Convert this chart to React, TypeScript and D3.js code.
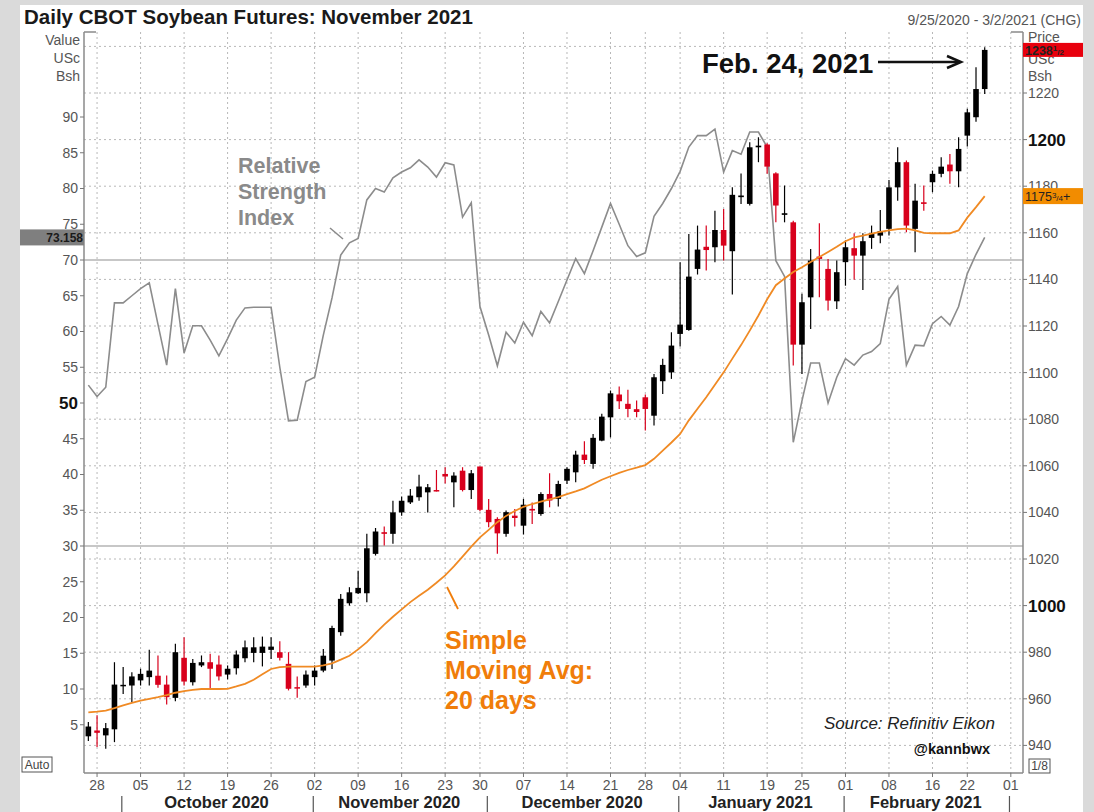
import * as d3 from "d3";

// trading days 9/25/2020 .. 2/24/2021, index 0..103
const opens = [
  943.9, 946.4, 944.3, 946.9, 965.4, 965.7, 967.9, 969.3, 969.9, 966.1,
  960.4, 977.6, 967.1, 974.3, 975.7, 974.7, 970.4, 973.1, 977.4, 979.7,
  979.7, 981.0, 980.0, 975.0, 965.0, 965.7, 969.3, 972.1, 976.4, 988.6,
  1001.0, 1005.3, 1005.3, 1022.2, 1031.5, 1030.8, 1040.0, 1044.3, 1046.5, 1048.6,
  1049.6, 1056.5, 1052.9, 1057.9, 1049.6, 1059.7, 1041.1, 1037.2, 1030.8, 1038.6,
  1034.3, 1041.5, 1039.3, 1047.9, 1045.8, 1053.6, 1057.2, 1064.8, 1060.8, 1070.8,
  1080.8, 1090.6, 1086.6, 1084.3, 1089.4, 1081.5, 1096.3, 1100.1, 1116.6, 1118.3,
  1144.5, 1154.0, 1153.8, 1161.2, 1152.1, 1175.3, 1172.4, 1196.7, 1197.9, 1185.5,
  1167.7, 1164.5, 1112.0, 1132.3, 1149.8, 1144.5, 1130.6, 1147.4, 1153.4, 1150.2,
  1157.8, 1158.8, 1161.7, 1179.5, 1190.3, 1161.7, 1173.1, 1181.7, 1185.3, 1189.3,
  1186.4, 1201.7, 1209.6, 1221.7,
];
const highs = [
  950.0, 952.9, 949.6, 975.7, 973.6, 971.4, 972.9, 981.1, 978.6, 970.0,
  983.6, 986.4, 977.1, 978.6, 979.3, 978.6, 974.3, 980.7, 985.0, 986.4,
  986.7, 986.4, 984.7, 980.0, 969.6, 972.1, 974.3, 981.4, 991.4, 1005.0,
  1007.9, 1015.0, 1030.8, 1033.3, 1033.9, 1045.0, 1046.8, 1050.0, 1056.2, 1052.2,
  1058.2, 1059.4, 1057.2, 1059.4, 1058.2, 1059.7, 1045.8, 1037.9, 1040.8, 1041.5,
  1045.8, 1044.3, 1048.6, 1056.8, 1053.6, 1059.4, 1066.5, 1070.5, 1073.7, 1082.3,
  1092.3, 1094.0, 1092.6, 1088.0, 1090.6, 1099.4, 1105.9, 1117.3, 1147.4, 1159.5,
  1163.1, 1163.1, 1169.5, 1170.2, 1179.5, 1185.5, 1198.9, 1201.0, 1198.4, 1186.0,
  1180.3, 1165.2, 1133.8, 1153.1, 1164.1, 1148.8, 1148.1, 1156.7, 1159.8, 1159.8,
  1163.1, 1169.8, 1182.7, 1196.7, 1191.0, 1181.0, 1180.3, 1186.7, 1192.4, 1193.8,
  1201.0, 1213.2, 1231.0, 1239.6,
];
const lows = [
  941.9, 939.3, 938.6, 941.4, 962.1, 958.6, 965.7, 965.7, 964.7, 957.6,
  959.0, 965.7, 965.7, 973.6, 964.3, 967.9, 968.3, 970.4, 975.7, 975.7,
  973.9, 977.1, 976.4, 963.6, 960.4, 964.7, 965.7, 971.4, 972.8, 987.1,
  1000.0, 1005.0, 1001.4, 1021.5, 1025.8, 1026.5, 1038.6, 1043.6, 1045.0, 1040.0,
  1049.0, 1052.4, 1042.2, 1049.0, 1045.8, 1040.5, 1033.6, 1022.2, 1029.6, 1033.9,
  1030.5, 1035.0, 1038.6, 1042.2, 1042.5, 1052.2, 1052.9, 1060.8, 1058.7, 1070.5,
  1072.2, 1084.4, 1080.8, 1080.8, 1075.1, 1077.3, 1090.8, 1097.3, 1111.2, 1118.0,
  1142.1, 1143.8, 1147.4, 1148.1, 1133.5, 1172.4, 1171.7, 1190.3, 1185.3, 1164.5,
  1164.5, 1103.0, 1099.4, 1118.7, 1132.3, 1126.6, 1127.3, 1137.3, 1139.8, 1135.5,
  1153.1, 1155.5, 1158.8, 1173.8, 1160.2, 1151.6, 1169.5, 1177.4, 1183.8, 1181.0,
  1179.5, 1197.0, 1207.7, 1219.6,
];
const closes = [
  948.1, 945.4, 947.4, 966.1, 966.0, 969.6, 970.7, 972.1, 966.0, 960.7,
  980.0, 967.4, 975.4, 975.7, 972.9, 969.6, 972.9, 979.0, 982.1, 982.1,
  982.4, 982.4, 977.6, 964.3, 964.6, 970.4, 972.1, 978.5, 990.4, 1002.9,
  1005.7, 1007.6, 1024.6, 1031.8, 1030.8, 1040.0, 1045.0, 1047.2, 1051.1, 1050.8,
  1049.1, 1055.4, 1055.8, 1049.6, 1056.8, 1041.1, 1035.8, 1031.0, 1040.1, 1037.6,
  1043.3, 1040.8, 1047.9, 1045.1, 1052.2, 1058.7, 1064.8, 1062.5, 1072.0, 1081.1,
  1091.1, 1087.7, 1084.4, 1083.1, 1084.4, 1098.0, 1103.3, 1111.6, 1120.6, 1141.2,
  1152.8, 1152.6, 1161.2, 1154.5, 1176.3, 1176.0, 1196.7, 1197.4, 1188.4, 1171.7,
  1168.4, 1112.0, 1130.2, 1148.1, 1148.8, 1130.9, 1143.1, 1153.8, 1150.2, 1156.4,
  1159.8, 1160.7, 1179.5, 1190.3, 1163.1, 1173.8, 1172.4, 1185.3, 1188.4, 1186.4,
  1196.0, 1211.7, 1221.7, 1238.5,
];
const rsi = [
  52.5, 50.9, 52.2, 64, 64, 65, 66, 66.8, 61, 55.3,
  66, 57, 60.8, 60.8, 58.8, 56.6, 59, 61.6, 63.3, 63.4,
  63.4, 63.4, 55, 47.5, 47.6, 53, 53.6, 59.5, 64.7, 70.7,
  72.4, 73, 78.4, 80, 79.5, 81.5, 82.3, 82.9, 84, 83,
  81.6, 83.6, 83.3, 76, 78, 63.5, 59.5, 55.2, 59.9, 58.4,
  61.3, 59.4, 62.8, 61.2, 64.2, 67.2, 70.2, 68.1, 71.3, 74.6,
  77.9, 75, 72, 70.5, 71, 76.1, 77.9, 80, 82.4, 85.8,
  87.4, 87.4, 88.3, 82.3, 85.3, 84.8, 87.9, 87.9, 85.8, 69.9,
  67.7, 44.5, 50.3, 55.6, 55.6, 50, 53.6, 56.2, 55.3, 56.7,
  57.2, 58.3, 64.5, 66.3, 55.3, 58.1, 58, 61.1, 62.1, 60.9,
  63.5, 68.1, 70.8, 73.158,
];
const sma20 = [
  954.2, 954.5, 954.9, 956.0, 957.2, 958.2, 959.2, 960.0, 960.7, 961.6,
  962.6, 963.3, 963.8, 964.2, 964.2, 964.2, 964.3, 965.3, 966.4, 968.2,
  970.5, 972.8, 973.6, 973.8, 973.8, 973.8, 973.8, 974.3, 975.2, 976.8,
  978.5, 981.2, 984.3, 988.2, 991.8, 995.2, 998.4, 1001.5, 1004.2, 1006.8,
  1009.8, 1013.0, 1016.8, 1021.0, 1025.3, 1029.3, 1032.5, 1035.8, 1038.5, 1040.6,
  1042.4, 1043.6, 1044.6, 1045.6, 1046.6, 1047.8, 1049.0, 1050.3, 1052.2, 1054.0,
  1055.5, 1057.0, 1058.2, 1059.2, 1060.3, 1063.0, 1066.5, 1070.0, 1073.7, 1079.5,
  1084.5, 1089.4, 1094.8, 1100.1, 1106.0, 1111.8, 1118.0, 1124.5, 1131.5, 1137.5,
  1140.4, 1143.2, 1145.2, 1147.5, 1149.6, 1151.8, 1154.0, 1156.4, 1158.0, 1158.8,
  1159.6, 1160.4, 1161.0, 1161.6, 1161.8, 1161.0, 1160.0, 1159.8, 1159.8, 1159.8,
  1161.0, 1166.5, 1171.0, 1175.75,
];

const dayTickIdx = [1, 6, 11, 16, 21, 26, 31, 36, 41, 45, 50, 55, 60, 64, 68, 73, 78, 82, 87, 92, 97, 101, 106];
const dayTickLabels = ["28", "05", "12", "19", "26", "02", "09", "16", "23", "30", "07", "14", "21", "28", "04", "11", "19", "25", "01", "08", "16", "22", "01"];
const monthStartIdx = [4, 26, 46, 68, 87, 106];
const monthLabels = ["October 2020", "November 2020", "December 2020", "January 2021", "February 2021"];
const priceTicks = [940, 960, 980, 1000, 1020, 1040, 1060, 1080, 1100, 1120, 1140, 1160, 1180, 1200, 1220];
const priceGrid = [...priceTicks, 1240];
const rsiTicks = [5, 10, 15, 20, 25, 30, 35, 40, 45, 50, 55, 60, 65, 70, 75, 80, 85, 90];

const FONT = "'Liberation Sans', Arial, sans-serif";
const RED = "#d8001c";
const ORANGE = "#f08a24";

export default function App() {
  const width = 1094;
  const height = 812;
  const left = 84;
  const right = 1023;
  const top = 32;
  const bottom = 773;

  const x = d3.scaleLinear([-0.5, 107.4], [left, right]);
  const yP = d3.scaleLinear([940, 1220], [745.4, 93]);
  const yR = d3.scaleLinear([0, 100], [760.5, 45.5]);

  const rsiLine = d3
    .line<number>()
    .x((d, i) => x(i))
    .y((d) => yR(d));
  const smaLine = d3
    .line<number>()
    .x((d, i) => x(i))
    .y((d) => yP(d));

  const bw = 5.6;

  return (
    <svg
      width={width}
      height={height}
      style={{ position: "absolute", left: 0, top: 0, fontFamily: FONT }}
    >
      <rect x={0} y={0} width={width} height={height} fill="#dadada" />
      <rect x={20} y={5} width={1063} height={height - 5} fill="#fff" />

      {/* title */}
      <text x={24} y={24} fontSize={20.5} fontWeight="bold" fill="#1a1a1a">
        Daily CBOT Soybean Futures: November 2021
      </text>
      <text x={1081} y={25} fontSize={14} fill="#555" textAnchor="end">
        9/25/2020 - 3/2/2021 (CHG)
      </text>

      {/* grid */}
      <g stroke="#b8b8b8" strokeWidth={1} strokeDasharray="2,3">
        {priceGrid.map((p) => (
          <line key={p} x1={left} x2={right} y1={yP(p)} y2={yP(p)} />
        ))}
        {dayTickIdx.map((d, i) => (
          <line key={i} x1={x(d)} x2={x(d)} y1={top} y2={bottom} />
        ))}
      </g>
      <g stroke="#b4b4b4" strokeWidth={1.6}>
        <line x1={left} x2={right} y1={yR(70)} y2={yR(70)} />
        <line x1={left} x2={right} y1={yR(30)} y2={yR(30)} />
      </g>

      {/* axes */}
      <g stroke="#8a8a8a" strokeWidth={1.5}>
        <line x1={left} x2={left} y1={top} y2={bottom} />
        <line x1={right} x2={right} y1={top} y2={bottom} />
        <line x1={left} x2={right} y1={bottom} y2={bottom} />
        <line x1={left} x2={left + 12} y1={top} y2={top} />
        <line x1={right - 12} x2={right} y1={top} y2={top} />
      </g>

      {/* left RSI axis */}
      <g fontSize={14} fill="#555" textAnchor="end">
        <text x={80} y={45}>Value</text>
        <text x={80} y={63}>USc</text>
        <text x={80} y={81}>Bsh</text>
        {rsiTicks.map((t) => (
          <g key={t}>
            <line x1={left - 4} x2={left} y1={yR(t)} y2={yR(t)} stroke="#777" />
            <text
              x={left - 6}
              y={yR(t)}
              dy="0.35em"
              fontSize={t === 50 ? 17 : 14}
              fontWeight={t === 50 ? "bold" : "normal"}
              fill={t === 50 ? "#111" : "#555"}
            >
              {t}
            </text>
          </g>
        ))}
      </g>
      <rect x={20} y={yR(73.158) - 8} width={left - 20} height={16} fill="#7f7f7f" />
      <text x={left - 1} y={yR(73.158)} dy="0.35em" fontSize={12} fontWeight="bold" fill="#1a1a1a" textAnchor="end">
        73.158
      </text>

      {/* right price axis */}
      <g fontSize={14} fill="#555">
        <text x={1028} y={42}>Price</text>
        <text x={1028} y={64}>USc</text>
        <text x={1028} y={81}>Bsh</text>
        {priceTicks.map((p) => (
          <g key={p}>
            <line x1={right} x2={right + 4} y1={yP(p)} y2={yP(p)} stroke="#777" />
            <text
              x={right + 5}
              y={yP(p)}
              dy="0.35em"
              fontSize={p % 200 === 0 ? 17 : 14}
              fontWeight={p % 200 === 0 ? "bold" : "normal"}
              fill={p % 200 === 0 ? "#111" : "#555"}
            >
              {p}
            </text>
          </g>
        ))}
      </g>
      <rect x={right} y={yP(1238.5) - 7} width={1083 - right} height={14} fill="#e8000d" />
      <text x={1025} y={yP(1238.5)} dy="0.38em" fontSize={12.5} fontWeight="bold" fill="#222">
        1238
        <tspan fontSize={8} dy="-0.4em">1</tspan>
        <tspan fontSize={8} dy="0.4em">/2</tspan>
      </text>
      <rect x={right} y={yP(1175.75) - 8} width={1083 - right} height={16} fill="#f28c00" />
      <text x={1025} y={yP(1175.75)} dy="0.38em" fontSize={12.5} fill="#222">
        1175
        <tspan fontSize={8} dy="-0.4em">3</tspan>
        <tspan fontSize={8} dy="0.4em">/4</tspan>
        <tspan>+</tspan>
      </text>

      {/* bottom axis */}
      <g fontSize={14} fill="#555" textAnchor="middle">
        {dayTickIdx.map((d, i) => (
          <g key={i}>
            <line x1={x(d)} x2={x(d)} y1={bottom} y2={bottom + 4} stroke="#777" />
            <text x={x(d)} y={790}>{dayTickLabels[i]}</text>
          </g>
        ))}
      </g>
      <g stroke="#555" strokeWidth={1.2}>
        {monthStartIdx.map((m) => (
          <line key={m} x1={x(m - 0.5) + 3} x2={x(m - 0.5) + 3} y1={796} y2={812} />
        ))}
      </g>
      <g fontSize={16.5} fontWeight="bold" fill="#222" textAnchor="middle">
        {monthLabels.map((m, i) => (
          <text key={m} x={(x(monthStartIdx[i] - 0.5) + x(monthStartIdx[i + 1] - 0.5)) / 2 + 2} y={807.5}>
            {m}
          </text>
        ))}
      </g>
      <rect x={22} y={757} width={30} height={15} fill="#fff" stroke="#555" />
      <text x={37} y={769} fontSize={12} fill="#444" textAnchor="middle">Auto</text>
      <rect x={1029} y={759} width={21} height={14} fill="#fff" stroke="#555" />
      <text x={1039.5} y={770} fontSize={12} fill="#444" textAnchor="middle">1/8</text>

      {/* RSI */}
      <path d={rsiLine(rsi) as string} fill="none" stroke="#8c8c8c" strokeWidth={1.6} />

      {/* candles */}
      {closes.map((c, i) => {
        const o = opens[i];
        const up = c >= o;
        const col = up ? "#000" : RED;
        const yTop = yP(Math.max(o, c));
        const yBot = yP(Math.min(o, c));
        return (
          <g key={i}>
            <line x1={x(i)} x2={x(i)} y1={yP(highs[i])} y2={yP(lows[i])} stroke={col} strokeWidth={1.2} />
            <rect x={x(i) - bw / 2} y={yTop} width={bw} height={Math.max(1.5, yBot - yTop)} fill={col} />
          </g>
        );
      })}

      {/* SMA */}
      <path d={smaLine(sma20) as string} fill="none" stroke={ORANGE} strokeWidth={1.8} />

      {/* annotations */}
      <g fontSize={21.5} fontWeight="bold" fill="#8a8a8a">
        <text x={238} y={173}>Relative</text>
        <text x={238} y={199}>Strength</text>
        <text x={238} y={225}>Index</text>
      </g>
      <line x1={330} y1={228} x2={343} y2={239} stroke="#8a8a8a" strokeWidth={1.5} />

      <g fontSize={25} fontWeight="bold" fill="#f07d0a">
        <text x={445} y={649}>Simple</text>
        <text x={445} y={679}>Moving Avg:</text>
        <text x={445} y={709}>20 days</text>
      </g>
      <line x1={447} y1={587} x2={458} y2={609} stroke="#f07d0a" strokeWidth={1.8} />

      <text x={702} y={73} fontSize={27.5} fontWeight="bold" fill="#111">Feb. 24, 2021</text>
      <line x1={878} y1={62} x2={959} y2={62} stroke="#111" strokeWidth={2.5} />
      <path d="M947,56 L961,62 L947,68" fill="none" stroke="#111" strokeWidth={2.5} />

      <text x={995} y={729} fontSize={17} fontStyle="italic" fill="#222" textAnchor="end">
        Source: Refinitiv Eikon
      </text>
      <text x={990} y={754} fontSize={14.5} fontWeight="bold" fill="#111" textAnchor="end">
        @kannbwx
      </text>
    </svg>
  );
}
